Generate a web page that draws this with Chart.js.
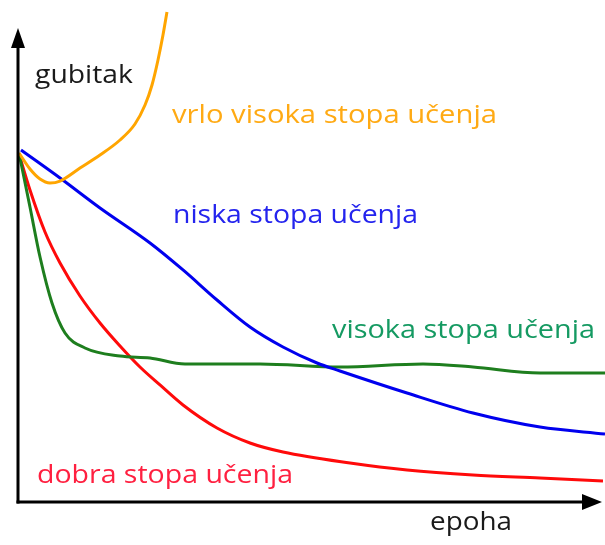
<!DOCTYPE html>
<html>
<head>
<meta charset="utf-8">
<script src="https://cdn.jsdelivr.net/npm/chart.js@4/dist/chart.umd.min.js"></script>
<style>
html,body{margin:0;padding:0;background:#fff;}
#wrap{width:605px;height:545px;position:relative;}
</style>
</head>
<body>
<div id="wrap"><canvas id="c" width="605" height="545"></canvas></div>
<script>
// Epochs (x) and loss (y) (arbitrary units 0..100)
const vrloVisokaX = [0.17, 2.04, 3.75, 5.45, 7.16, 10.56, 13.97, 17.38, 19.93, 21.64, 22.83, 23.85, 24.70, 25.38];
const vrloVisokaY = [69.52, 66.33, 64.34, 63.55, 63.94, 66.53, 69.12, 72.11, 75.30, 79.08, 83.07, 88.05, 93.03, 97.61];

const niskaX = [0.51, 7.16, 13.97, 22.49, 28.11, 33.90, 39.52, 45.14, 50.94, 54.85, 66.27, 77.51, 88.93, 100];
const niskaY = [70.12, 64.54, 58.57, 51.59, 46.22, 40.24, 34.86, 30.88, 27.69, 26.10, 21.71, 17.73, 14.94, 13.55];

const visokaX = [0.17, 2.04, 3.75, 5.79, 8.01, 11.41, 17.38, 22.49, 28.45, 41.23, 54.85, 69.00, 77.51, 88.93, 100];
const visokaY = [69.52, 58.76, 48.80, 39.64, 33.67, 30.68, 29.08, 28.69, 27.49, 27.49, 26.89, 27.49, 26.89, 25.70, 25.70];

const dobraX = [0.17, 2.04, 4.60, 7.16, 10.56, 13.97, 17.38, 20.78, 24.19, 28.11, 33.90, 39.52, 45.14, 56.56, 66.27, 77.51, 88.93, 99.66];
const dobraY = [69.32, 62.15, 53.78, 47.61, 41.04, 35.66, 31.08, 26.89, 23.31, 19.32, 14.74, 11.75, 9.96, 7.77, 6.37, 5.38, 4.78, 4.18];

const seriesNames = ['vrlo visoka stopa učenja', 'niska stopa učenja', 'visoka stopa učenja', 'dobra stopa učenja'];
const axisTitles = ['gubitak', 'epoha'];

function pts(xs, ys){ return xs.map((x,i)=>({x:x, y:ys[i]})); }

const lineColors = ['#FFA500', '#0000EE', '#1E7E1E', '#FF0A0A'];
const textColors = ['#FFAA14', '#2424EE', '#159A62', '#FF2040'];

function ds(label, xs, ys, color){
  return {label, data: pts(xs, ys), borderColor: color, backgroundColor: color,
    borderWidth: 3, pointRadius: 0, cubicInterpolationMode: 'monotone', fill: false, clip: false};
}

const FONT = '"Open Sans", "Noto Sans", sans-serif';
function fitText(ctx, text, x, y, width, size, color){
  ctx.save();
  ctx.font = size + 'px ' + FONT;
  ctx.fillStyle = color;
  ctx.textBaseline = 'alphabetic';
  ctx.textAlign = 'left';
  const m = ctx.measureText(text).width;
  const s = width / m;
  ctx.translate(x, y);
  ctx.scale(s, 1);
  ctx.fillText(text, 0, 0);
  ctx.restore();
}

const decor = {
  id: 'decor',
  afterDatasetsDraw(chart){
    const ctx = chart.ctx;
    const xs = chart.scales.x, ys = chart.scales.y;
    const x0 = xs.getPixelForValue(0), y0 = ys.getPixelForValue(0);
    ctx.save();
    ctx.strokeStyle = '#000'; ctx.fillStyle = '#000'; ctx.lineWidth = 3;
    // y axis
    ctx.beginPath(); ctx.moveTo(x0, y0 + 1.5); ctx.lineTo(x0, 44); ctx.stroke();
    ctx.beginPath(); ctx.moveTo(x0, 28); ctx.lineTo(x0 - 7, 48); ctx.lineTo(x0 + 7, 48); ctx.closePath(); ctx.fill();
    // x axis
    ctx.beginPath(); ctx.moveTo(x0 - 1.5, y0); ctx.lineTo(586, y0); ctx.stroke();
    ctx.beginPath(); ctx.moveTo(602, y0); ctx.lineTo(582, y0 - 8); ctx.lineTo(582, y0 + 8); ctx.closePath(); ctx.fill();
    ctx.restore();
    // texts
    fitText(ctx, axisTitles[0], 35, 83, 98, 26, '#1a1a1a');
    fitText(ctx, axisTitles[1], 430, 530, 82, 26, '#1a1a1a');
    fitText(ctx, seriesNames[0], 172, 123, 325, 26, textColors[0]);
    fitText(ctx, seriesNames[1], 173, 223, 245, 26, textColors[1]);
    fitText(ctx, seriesNames[2], 332, 338, 263, 26, textColors[2]);
    fitText(ctx, seriesNames[3], 37, 483, 256, 26, textColors[3]);
  }
};

new Chart(document.getElementById('c'), {
  type: 'line',
  data: {
    datasets: [
      ds(seriesNames[0], vrloVisokaX, vrloVisokaY, lineColors[0]),
      ds(seriesNames[1], niskaX, niskaY, lineColors[1]),
      ds(seriesNames[2], visokaX, visokaY, lineColors[2]),
      ds(seriesNames[3], dobraX, dobraY, lineColors[3])
    ]
  },
  options: {
    responsive: false,
    animation: false,
    layout: {padding: {left: 18, right: 0, top: 0, bottom: 43}},
    plugins: {legend: {display: false}, tooltip: {enabled: false}, title: {display: false}},
    scales: {
      x: {type: 'linear', min: 0, max: 100, display: false},
      y: {type: 'linear', min: 0, max: 100, display: false}
    }
  },
  plugins: [decor]
});
</script>
</body>
</html>
